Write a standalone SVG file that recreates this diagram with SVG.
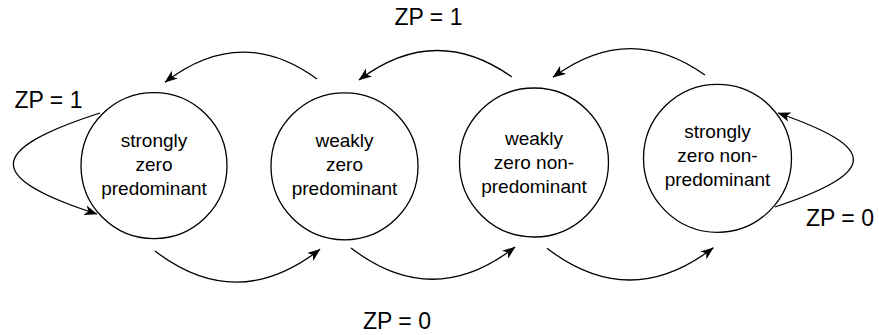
<svg xmlns="http://www.w3.org/2000/svg" width="879" height="335" viewBox="0 0 879 335">
<style>
.st{fill:#fff;stroke:#000;stroke-width:1.3}
.nt{font-family:"Liberation Sans",Arial,sans-serif;font-size:19px;fill:#000;text-anchor:middle}
.lb{font-family:"Liberation Sans",Arial,sans-serif;font-size:23px;fill:#000;text-anchor:middle}
.ed{fill:none;stroke:#000;stroke-width:1.3}
</style>
<defs>
<marker id="ah" viewBox="0 0 13 10" refX="12.5" refY="5" markerWidth="13" markerHeight="10" markerUnits="userSpaceOnUse" orient="auto">
<path d="M0,0 L13,5 L0,10 L3.5,5 Z" fill="#000"/>
</marker>
</defs>
<g id="n1">
<circle class="st" cx="154" cy="165.7" r="73"/>
<text class="nt" x="154" y="147">strongly</text>
<text class="nt" x="154" y="171">zero</text>
<text class="nt" x="154" y="195">predominant</text>
</g>
<g id="n2">
<circle class="st" cx="344.5" cy="166.3" r="73.5"/>
<text class="nt" x="344.5" y="147">weakly</text>
<text class="nt" x="344.5" y="171">zero</text>
<text class="nt" x="344.5" y="195">predominant</text>
</g>
<g id="n3">
<circle class="st" cx="534" cy="162.5" r="74.5"/>
<text class="nt" x="534" y="145">weakly</text>
<text class="nt" x="534" y="169">zero non-</text>
<text class="nt" x="534" y="193">predominant</text>
</g>
<g id="n4">
<circle class="st" cx="717.5" cy="158.3" r="74"/>
<text class="nt" x="717.5" y="138">strongly</text>
<text class="nt" x="717.5" y="162">zero non-</text>
<text class="nt" x="717.5" y="186">predominant</text>
</g>
<g id="edges">
<path class="ed" d="M317,79 Q241,23.5 165,82.3" marker-end="url(#ah)"/>
<path class="ed" d="M512,77 Q435,22.5 359,80" marker-end="url(#ah)"/>
<path class="ed" d="M705,75 Q629,21 553,77.3" marker-end="url(#ah)"/>
<path class="ed" d="M155,251 Q237,314 320,249.3" marker-end="url(#ah)"/>
<path class="ed" d="M351,248 Q433,311 515,247" marker-end="url(#ah)"/>
<path class="ed" d="M547,248.3 Q630,312 713.3,247.7" marker-end="url(#ah)"/>
<path class="ed" d="M100,113 C-15,150 -15,178 97,214" marker-end="url(#ah)"/>
<path class="ed" d="M775,207 C879,172 879,148 778,113" marker-end="url(#ah)"/>
</g>
<g id="labels">
<text class="lb" x="428.5" y="25">ZP = 1</text>
<text class="lb" x="48.5" y="108">ZP = 1</text>
<text class="lb" x="840" y="226">ZP = 0</text>
<text class="lb" x="397" y="329">ZP = 0</text>
</g>
</svg>
